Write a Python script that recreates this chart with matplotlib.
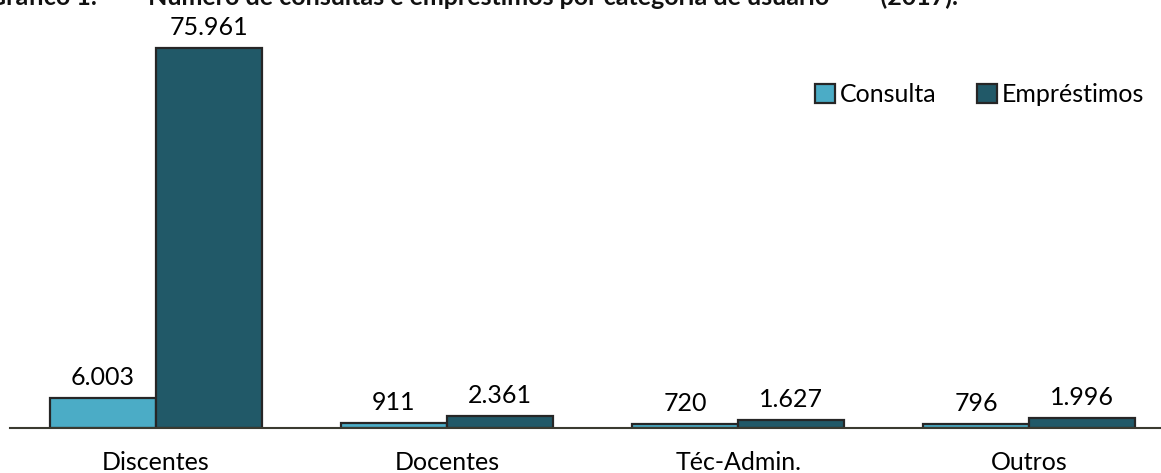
import matplotlib.pyplot as plt
import numpy as np

categorias = ['Discentes', 'Docentes', 'Téc-Admin.', 'Outros']
consulta = [6003, 911, 720, 796]
emprestimos = [75961, 2361, 1627, 1996]
series = ['Consulta', 'Empréstimos']

COR_CONSULTA = '#4BACC6'
COR_EMPREST = '#215968'
COR_BORDA = '#262626'
LARG = 0.364
FS = 18

plt.rcParams['font.family'] = ['Lato', 'DejaVu Sans']

fig = plt.figure(figsize=(11.61, 4.73), dpi=100)
ax = fig.add_axes([10 / 1161, 45 / 473, 1165 / 1161, 400.2 / 473])

x = np.arange(len(categorias))
b1 = ax.bar(x - LARG / 2, consulta, LARG, color=COR_CONSULTA,
            edgecolor=COR_BORDA, linewidth=1.6, label=series[0])
b2 = ax.bar(x + LARG / 2, emprestimos, LARG, color=COR_EMPREST,
            edgecolor=COR_BORDA, linewidth=1.6, label=series[1])

def fmt(v):
    return f'{v:,}'.replace(',', '.')

# rotulos de valor (13 px acima da barra)
for bars, vals in ((b1, consulta), (b2, emprestimos)):
    for r, v in zip(bars, vals):
        ax.annotate(fmt(v), (r.get_x() + r.get_width() / 2, v),
                    xytext=(0, 9.4), textcoords='offset points',
                    ha='center', va='baseline', fontsize=FS)

# rotulos das categorias
for xi, cat in zip(x, categorias):
    ax.annotate(cat, (xi, 0), xytext=(0, -30.2), textcoords='offset points',
                ha='center', va='baseline', fontsize=FS, annotation_clip=False)

ax.set_xlim(-0.5, 3.5)
ax.set_ylim(0, 80000)
ax.set_xticks([])
ax.set_yticks([])
for s in ('top', 'right', 'left'):
    ax.spines[s].set_visible(False)
ax.spines['bottom'].set_color('#3a3a30')
ax.spines['bottom'].set_linewidth(1.5)
ax.set_facecolor('none')

leg = ax.legend(loc='upper right', bbox_to_anchor=(1154 / 1161, 1 - 73 / 473),
                bbox_transform=fig.transFigure, ncol=2, frameon=False,
                fontsize=FS, handlelength=0.8, handleheight=0.8,
                handletextpad=0.2, columnspacing=1.6, borderaxespad=0)

fig.text(958 / 1161, 1 - 5 / 473,
         'Gráfico 1.   –   Número de consultas e empréstimos por categoria de usuário   –   (2017).',
         ha='right', va='baseline', fontsize=18, fontweight='bold',
         color='#111111')

fig.savefig('out.png', dpi=100)
